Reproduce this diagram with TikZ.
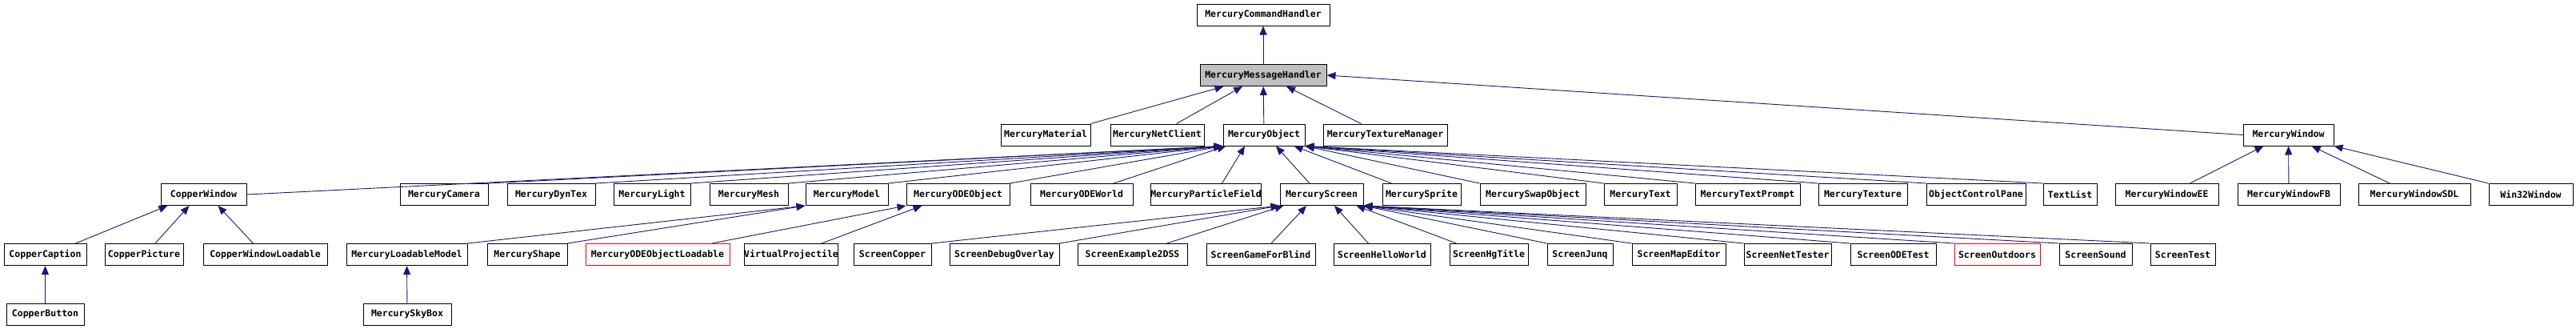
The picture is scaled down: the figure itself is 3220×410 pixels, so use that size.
\documentclass[tikz,border=0pt]{standalone}
\usepackage{fontspec}
\newfontfamily\dxfont{DejaVu Sans Mono}
\usetikzlibrary{arrows.meta}

\definecolor{edgeblue}{RGB}{25,25,112}
\definecolor{boxgrey}{RGB}{191,191,191}

\tikzset{every picture/.style={line width=1pt}}
\tikzset{
  cls/.style={draw=black, fill=white, inner sep=0pt, minimum height=27,
    font=\dxfont\bfseries\fontsize{11.5}{13}\selectfont},
  clsgrey/.style={cls, fill=boxgrey},
  clsred/.style={cls, draw=red},
  inh/.style={draw=edgeblue, line width=0.9pt, -{Triangle[length=11pt,width=9pt]}},
}

\begin{document}
\begin{tikzpicture}[x=1pt,y=1pt,yscale=-1,xscale=1]
\useasboundingbox (0,0) rectangle (3220,410);

% Text Node -- top
\node[cls, minimum width=166] (cmdh) at (1579,18.5) {MercuryCommandHandler};
\node[clsgrey, minimum width=158] (msgh) at (1579,94) {MercuryMessageHandler};

% Text Node -- third row
\node[cls, minimum width=112] (mmat) at (1307,168.5) {MercuryMaterial};
\node[cls, minimum width=117] (mnet) at (1446.5,168.5) {MercuryNetClient};
\node[cls, minimum width=102] (mobj) at (1580,168.5) {MercuryObject};
\node[cls, minimum width=155] (mtexm) at (1731.5,168.5) {MercuryTextureManager};
\node[cls, minimum width=113] (mwin) at (2860.5,168.5) {MercuryWindow};

% Text Node -- fourth row
\node[cls, minimum width=107] (cwin) at (254.5,243) {CopperWindow};
\node[cls, minimum width=110] (mcam) at (555,243) {MercuryCamera};
\node[cls, minimum width=110] (mdyn) at (689,243) {MercuryDynTex};
\node[cls, minimum width=96] (mlight) at (815,243) {MercuryLight};
\node[cls, minimum width=98] (mmesh) at (936,243) {MercuryMesh};
\node[cls, minimum width=103] (mmodel) at (1058.5,243) {MercuryModel};
\node[cls, minimum width=129] (modeo) at (1197.5,243) {MercuryODEObject};
\node[cls, minimum width=128] (modew) at (1352,243) {MercuryODEWorld};
\node[cls, minimum width=137] (mpart) at (1507.5,243) {MercuryParticleField};
\node[cls, minimum width=104] (mscr) at (1652,243) {MercuryScreen};
\node[cls, minimum width=98] (mspr) at (1777,243) {MercurySprite};
\node[cls, minimum width=132] (mswap) at (1916,243) {MercurySwapObject};
\node[cls, minimum width=91] (mtext) at (2050.5,243) {MercuryText};
\node[cls, minimum width=131] (mtprompt) at (2184.5,243) {MercuryTextPrompt};
\node[cls, minimum width=111] (mtex) at (2328.5,243) {MercuryTexture};
\node[cls, minimum width=124] (ocp) at (2470,243) {ObjectControlPane};
\node[cls, minimum width=67] (tlist) at (2587.5,243) {TextList};
\node[cls, minimum width=129] (mwee) at (2708.5,243) {MercuryWindowEE};
\node[cls, minimum width=128] (mwfb) at (2861,243) {MercuryWindowFB};
\node[cls, minimum width=140] (mwsdl) at (3018,243) {MercuryWindowSDL};
\node[cls, minimum width=105] (w32) at (3163.5,243) {Win32Window};

% Text Node -- fifth row
\node[cls, minimum width=103] (ccap) at (56.5,318) {CopperCaption};
\node[cls, minimum width=98] (cpic) at (180,318) {CopperPicture};
\node[cls, minimum width=155] (cwl) at (331.5,318) {CopperWindowLoadable};
\node[cls, minimum width=151] (mlm) at (508.5,318) {MercuryLoadableModel};
\node[cls, minimum width=100] (mshape) at (659,318) {MercuryShape};
\node[clsred, minimum width=180] (model) at (822,318) {MercuryODEObjectLoadable};
\node[cls, minimum width=110] (vproj) at (989,318) {VirtualProjectile};
\node[cls, minimum width=97] (scop) at (1115.5,318) {ScreenCopper};
\node[cls, minimum width=137] (sdbg) at (1255.5,318) {ScreenDebugOverlay};
\node[cls, minimum width=137] (sex) at (1415.5,318) {ScreenExample2DSS};
\node[cls, minimum width=136] (sgfb) at (1576,318) {ScreenGameForBlind};
\node[cls, minimum width=121] (shw) at (1727.5,318) {ScreenHelloWorld};
\node[cls, minimum width=98] (shg) at (1861,318) {ScreenHgTitle};
\node[cls, minimum width=82] (sjunq) at (1975,318) {ScreenJunq};
\node[cls, minimum width=117] (smap) at (2098.5,318) {ScreenMapEditor};
\node[cls, minimum width=109] (snet) at (2234.5,318) {ScreenNetTester};
\node[cls, minimum width=107] (sode) at (2366.5,318) {ScreenODETest};
\node[clsred, minimum width=107] (sout) at (2496.5,318) {ScreenOutdoors};
\node[cls, minimum width=91] (ssnd) at (2619.5,318) {ScreenSound};
\node[cls, minimum width=81] (stest) at (2728.5,318) {ScreenTest};

% Text Node -- bottom row
\node[cls, minimum width=97] (cbtn) at (56.5,392.5) {CopperButton};
\node[cls, minimum width=110] (msky) at (509,392.5) {MercurySkyBox};

%Straight Lines -- message handler
\draw[inh] (msgh) -- (cmdh);
\draw[inh] (mmat.north east) -- ([xshift=30]msgh.south west);
\draw[inh] ([xshift=24]mnet.north) -- ([xshift=-26]msgh.south);
\draw[inh] (mobj) -- (msgh);
\draw[inh] ([xshift=-30]mtexm.north) -- ([xshift=29]msgh.south);
\draw[inh] (mwin.west) -- (msgh.east);

%Straight Lines -- object
\draw[inh] (cwin.east) -- (mobj.south west);
\foreach \c in {mcam,mdyn,mlight,mmesh,mmodel,modeo}
  \draw[inh] (\c.north east) -- (mobj.south west);
\draw[inh] ([xshift=40]modew.north) -- ([xshift=4]mobj.south west);
\draw[inh] ([xshift=20]mpart.north) -- ([xshift=-24]mobj.south);
\draw[inh] ([xshift=-15]mscr.north) -- ([xshift=15]mobj.south);
\draw[inh] ([xshift=12]mspr.north west) -- ([xshift=-14]mobj.south east);
\foreach \c in {mswap,mtext,mtprompt,mtex,ocp,tlist}
  \draw[inh] (\c.north west) -- (mobj.south east);

%Straight Lines -- window
\draw[inh] ([xshift=29]mwee.north) -- ([xshift=26]mwin.south west);
\draw[inh] (mwfb) -- (mwin);
\draw[inh] ([xshift=-31]mwsdl.north) -- ([xshift=29]mwin.south);
\draw[inh] (w32.north west) -- (mwin.south east);

%Straight Lines -- copper
\draw[inh] ([xshift=38]ccap.north) -- ([xshift=9]cwin.south west);
\draw[inh] ([xshift=14]cpic.north) -- ([xshift=-18]cwin.south);
\draw[inh] ([xshift=-15]cwl.north) -- ([xshift=18]cwin.south);
\draw[inh] (cbtn) -- (ccap);

%Straight Lines -- model, ode object
\draw[inh] (mlm.north east) -- (mmodel.south west);
\draw[inh] (mshape.north east) -- (mmodel.south west);
\draw[inh] (msky) -- (mlm);
\draw[inh] ([xshift=68]model.north) -- (modeo.south west);
\draw[inh] ([xshift=38]vproj.north) -- ([xshift=20]modeo.south west);

%Straight Lines -- screen
\draw[inh] (scop.north east) -- (mscr.south west);
\draw[inh] (sdbg.north east) -- (mscr.south west);
\draw[inh] ([xshift=43]sex.north) -- ([xshift=5]mscr.south west);
\draw[inh] ([xshift=13]sgfb.north) -- ([xshift=-19]mscr.south);
\draw[inh] ([xshift=-17]shw.north) -- ([xshift=16]mscr.south);
\draw[inh] ([xshift=9]shg.north west) -- ([xshift=-9]mscr.south east);
\foreach \c in {sjunq,smap,snet,sode,sout,ssnd,stest}
  \draw[inh] (\c.north west) -- (mscr.south east);

\end{tikzpicture}
\end{document}
